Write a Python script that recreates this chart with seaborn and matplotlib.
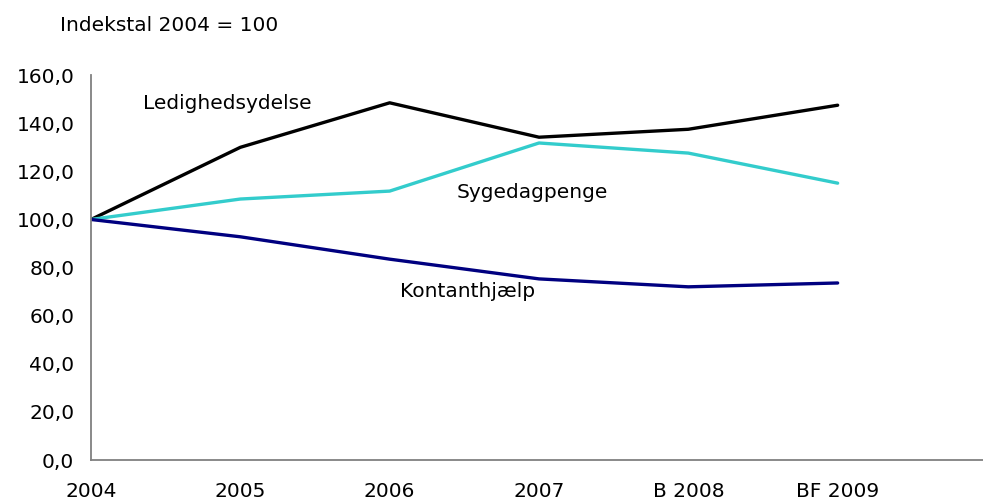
import pandas as pd
import seaborn as sns
import matplotlib
matplotlib.use("Agg")
import matplotlib.pyplot as plt

years = ["2004", "2005", "2006", "2007", "B 2008", "BF 2009"]
ledighedsydelse = [100.0, 130.0, 148.5, 134.2, 137.5, 147.5]
sygedagpenge = [100.0, 108.5, 111.8, 131.8, 127.6, 115.1]
kontanthjaelp = [100.0, 92.8, 83.5, 75.3, 72.0, 73.6]

series = ["Ledighedsydelse", "Sygedagpenge", "Kontanthjælp"]
colors = ["#000000", "#33CCCC", "#000080"]

df = pd.DataFrame({
    "pos": list(range(len(years))) * 3,
    "værdi": ledighedsydelse + sygedagpenge + kontanthjaelp,
    "serie": [s for s in series for _ in years],
})

sns.set_style("white")
plt.rcParams["font.family"] = ["DejaVu Sans"]
plt.rcParams["text.color"] = "black"

fig = plt.figure(figsize=(9.83, 5.01), dpi=100)
ax = fig.add_axes([0.0926, 0.0818, 0.9084, 0.7682])

sns.lineplot(data=df, x="pos", y="værdi", hue="serie", palette=colors,
             hue_order=series, linewidth=2.4, legend=False, ax=ax)

ax.set_xlim(0, 5.98)
ax.set_ylim(0, 160)
ax.set_xticks(range(len(years)))
ax.set_xticklabels(years)
ax.set_yticks(range(0, 161, 20))
ax.set_yticklabels([f"{v},0" for v in range(0, 161, 20)])
ax.set_xlabel("")
ax.set_ylabel("")

for side in ["top", "right"]:
    ax.spines[side].set_visible(False)
for side in ["left", "bottom"]:
    ax.spines[side].set_color("#808080")
    ax.spines[side].set_linewidth(1.3)

ax.tick_params(axis="both", which="both", direction="out", length=5,
               width=1, color="#808080", labelsize=14.5, labelcolor="black")
ax.tick_params(axis="x", pad=11)
ax.tick_params(axis="y", pad=7)

# seriernes navne direkte i figuren
ax.text(0.35, 148.4, "Ledighedsydelse", fontsize=14.5, va="center")
ax.text(2.45, 111.4, "Sygedagpenge", fontsize=14.5, va="center")
ax.text(2.07, 70.2, "Kontanthjælp", fontsize=14.5, va="center")

fig.text(0.061, 0.95, "Indekstal 2004 = 100", fontsize=14.5, va="center")

fig.savefig("out.png", dpi=100)
